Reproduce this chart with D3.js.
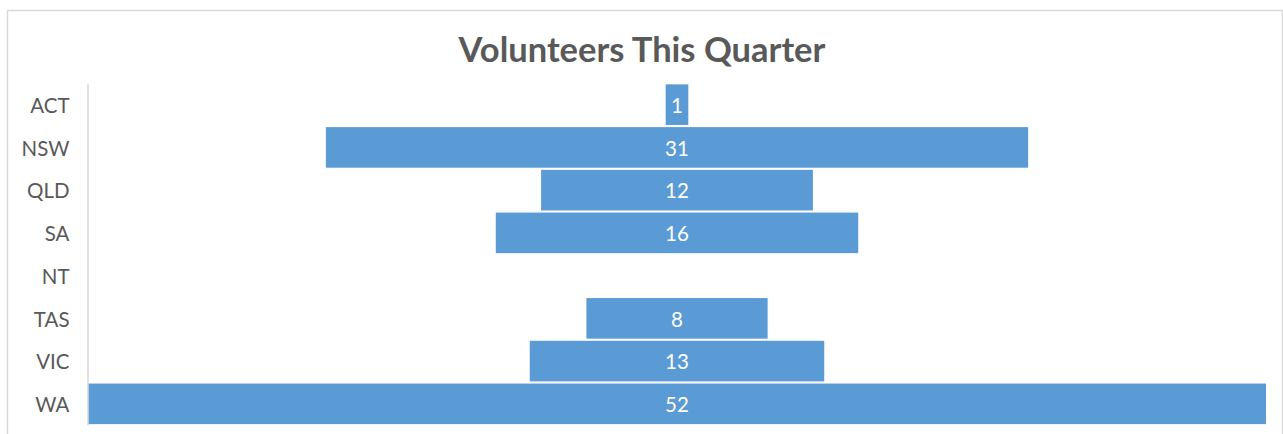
<!DOCTYPE html>
<html>
<head>
<meta charset="utf-8">
<script src="https://cdn.jsdelivr.net/npm/d3@7"></script>
<style>
  body { margin: 0; background: #fff; }
  svg { display: block; font-family: Lato, "Open Sans", sans-serif; }
</style>
</head>
<body>
<svg id="chart" width="1283" height="434"></svg>
<script>
// states, top to bottom
const states = ['ACT', 'NSW', 'QLD', 'SA', 'NT', 'TAS', 'VIC', 'WA'];
const volunteers = [1, 31, 12, 16, 0, 8, 13, 52];
const title = 'Volunteers This Quarter';

const svg = d3.select('#chart');

const barColor = '#5b9bd5';
const textColor = '#595959';

// chart frame
svg.append('rect')
	.attr('x', 7.5).attr('y', 10.5)
	.attr('width', 1275).attr('height', 440)
	.attr('fill', 'none')
	.attr('stroke', '#d9d9d9')
	.attr('stroke-width', 1.5);

svg.append('text')
	.attr('x', 642).attr('y', 62)
	.attr('text-anchor', 'middle')
	.attr('font-size', 34.5)
	.attr('font-weight', 'bold')
	.attr('fill', textColor)
	.text(title);

const plotLeft = 88, plotRight = 1266;
const center = (plotLeft + plotRight) / 2;

const scaleW = d3.scaleLinear()
	.domain([0, d3.max(volunteers)])
	.range([0, plotRight - plotLeft]);

const scaleY = d3.scaleBand()
	.domain(states)
	.range([83.5, 425])
	.paddingInner(0.05)
	.paddingOuter(0.02);

const data = states.map((s, i) => ({state: s, value: volunteers[i]}));

svg.append('g').selectAll('rect')
	.data(data.filter(d => d.value > 0))
	.join('rect')
	.attr('x', d => center - scaleW(d.value) / 2)
	.attr('y', d => scaleY(d.state))
	.attr('width', d => scaleW(d.value))
	.attr('height', scaleY.bandwidth())
	.attr('fill', barColor);

svg.append('g').selectAll('text')
	.data(data.filter(d => d.value > 0))
	.join('text')
	.attr('x', center)
	.attr('y', d => scaleY(d.state) + scaleY.bandwidth() / 2 + 1)
	.attr('dy', '0.35em')
	.attr('text-anchor', 'middle')
	.attr('font-size', 20.5)
	.attr('fill', '#fff')
	.text(d => d.value);

// category axis
const axisG = svg.append('g')
	.attr('transform', 'translate(' + (plotLeft - 0.5) + ',0)')
	.call(d3.axisLeft(scaleY).tickSize(0).tickPadding(18));

axisG.select('.domain')
	.attr('stroke', '#d9d9d9')
	.attr('stroke-width', 1.5);

axisG.selectAll('text')
	.attr('font-size', 20.5)
	.attr('font-family', 'Lato, "Open Sans", sans-serif')
	.attr('dy', '0.4em')
	.attr('fill', textColor);
</script>
</body>
</html>
